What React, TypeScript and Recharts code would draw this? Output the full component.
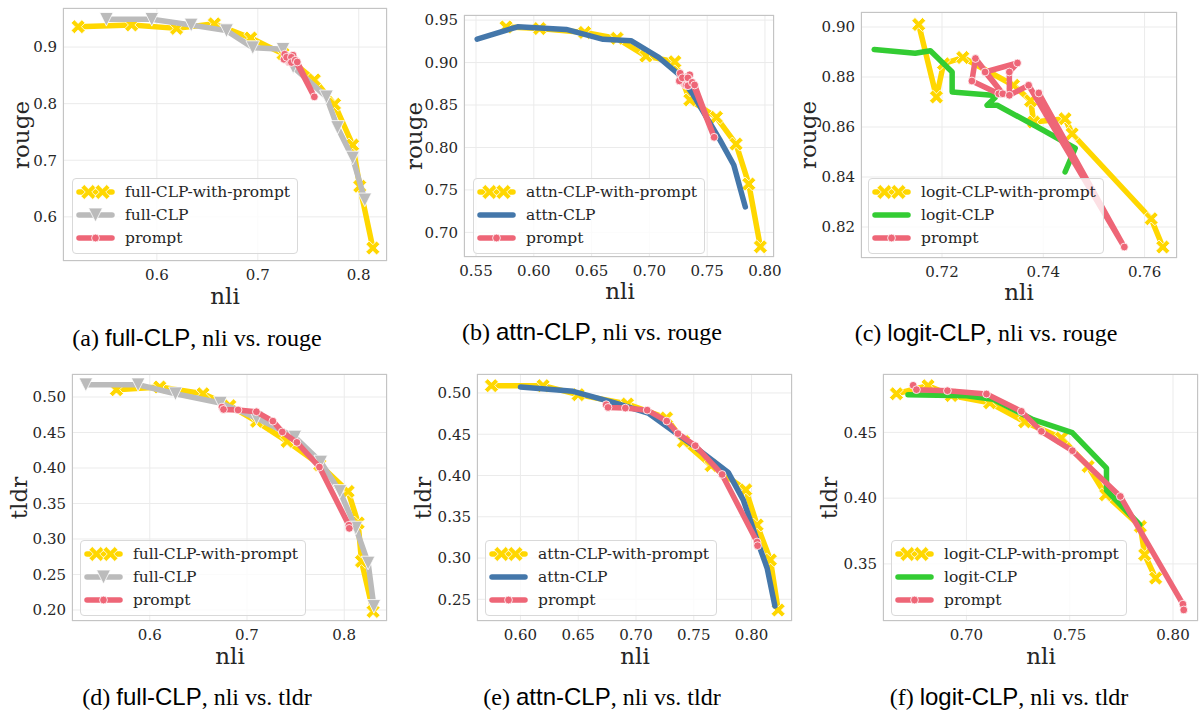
import React from 'react';
import { ScatterChart, Scatter, XAxis, YAxis, CartesianGrid } from 'recharts';

// ---------- data (nli on x, metric on y) ----------
// (a) full-CLP, nli vs. rouge
const fullWpRougeNli = [0.522, 0.575, 0.6195, 0.657, 0.693, 0.725, 0.756, 0.776, 0.794, 0.801, 0.814];
const fullWpRouge = [0.936, 0.939, 0.933, 0.941, 0.916, 0.888, 0.842, 0.799, 0.727, 0.654, 0.545];
const fullRougeNli = [0.55, 0.595, 0.634, 0.669, 0.695, 0.725, 0.735, 0.768, 0.779, 0.794, 0.806];
const fullRouge = [0.949, 0.949, 0.939, 0.929, 0.899, 0.896, 0.865, 0.812, 0.758, 0.704, 0.63];
// (b) attn-CLP, nli vs. rouge
const attnWpRougeNli = [0.576, 0.605, 0.644, 0.672, 0.697, 0.722, 0.735, 0.758, 0.775, 0.786, 0.796];
const attnWpRouge = [0.942, 0.94, 0.9355, 0.9285, 0.9076, 0.901, 0.856, 0.8355, 0.804, 0.757, 0.683];
const attnRougeNli = [0.551, 0.586, 0.628, 0.66, 0.684, 0.708, 0.725, 0.738, 0.761, 0.773, 0.783];
const attnRouge = [0.9276, 0.9421, 0.939, 0.9273, 0.9257, 0.906, 0.8865, 0.8618, 0.809, 0.7794, 0.73];
// (c) logit-CLP, nli vs. rouge
const logitWpRougeNli = [0.7154, 0.7189, 0.7203, 0.7241, 0.7341, 0.7375, 0.7381, 0.7443, 0.7457, 0.7613, 0.7636];
const logitWpRouge = [0.901, 0.872, 0.8853, 0.8878, 0.8767, 0.8705, 0.862, 0.8633, 0.8573, 0.8233, 0.812];
const logitRougeNli = [0.7066, 0.7147, 0.7177, 0.722, 0.722, 0.7299, 0.7305, 0.7289, 0.7309, 0.74, 0.7463, 0.7443];
const logitRouge = [0.891, 0.8895, 0.8905, 0.882, 0.874, 0.8727, 0.8718, 0.8687, 0.8687, 0.8587, 0.8515, 0.842];
// prompt baseline, nli vs. rouge
const promptRougeNli = [0.7312, 0.7259, 0.7266, 0.732, 0.7285, 0.7349, 0.7333, 0.7333, 0.7371, 0.756, 0.7391];
const promptRouge = [0.8733, 0.8784, 0.8874, 0.8733, 0.882, 0.8856, 0.882, 0.8727, 0.8767, 0.812, 0.8736];
// (d) full-CLP, nli vs. tldr
const fullWpTldrNli = [0.5657, 0.6103, 0.6548, 0.6823, 0.7098, 0.7413, 0.7749, 0.804, 0.8143, 0.8178, 0.8297];
const fullWpTldr = [0.5103, 0.5141, 0.5046, 0.4877, 0.4657, 0.4375, 0.4047, 0.367, 0.3225, 0.2685, 0.198];
const fullTldrNli = [0.5342, 0.588, 0.6264, 0.6727, 0.7098, 0.7492, 0.7759, 0.7955, 0.8119, 0.8246, 0.8305];
const fullTldr = [0.5173, 0.5173, 0.5046, 0.4915, 0.4704, 0.4437, 0.4085, 0.367, 0.3155, 0.2662, 0.2051];
// (e) attn-CLP, nli vs. tldr
const attnWpTldrNli = [0.5749, 0.6196, 0.6499, 0.6926, 0.7264, 0.741, 0.765, 0.795, 0.8048, 0.8163, 0.823];
const attnWpTldr = [0.5089, 0.5089, 0.498, 0.4866, 0.4697, 0.4413, 0.412, 0.3826, 0.34, 0.2977, 0.237];
const attnTldrNli = [0.6, 0.6455, 0.6802, 0.7105, 0.745, 0.7798, 0.7928, 0.8057, 0.8135, 0.8202];
const attnTldr = [0.5073, 0.502, 0.4886, 0.4757, 0.441, 0.4038, 0.3705, 0.318, 0.2876, 0.2418];
// (f) logit-CLP, nli vs. tldr
const logitWpTldrNli = [0.6661, 0.6814, 0.6927, 0.7113, 0.7282, 0.746, 0.7589, 0.7674, 0.7842, 0.7863, 0.7916];
const logitWpTldr = [0.4794, 0.4855, 0.478, 0.4725, 0.458, 0.4457, 0.4241, 0.4026, 0.3785, 0.357, 0.3392];
const logitTldrNli = [0.6717, 0.7, 0.7129, 0.7323, 0.7512, 0.7678, 0.7678, 0.7839];
const logitTldr = [0.4787, 0.4779, 0.4752, 0.4597, 0.4498, 0.4229, 0.4059, 0.3798];
// prompt baseline, nli vs. tldr
const promptTldrNli = [0.6742, 0.6758, 0.6908, 0.7097, 0.7266, 0.7363, 0.7513, 0.7745, 0.8048, 0.8052];
const promptTldr = [0.4858, 0.4825, 0.4817, 0.4792, 0.466, 0.4508, 0.4361, 0.4013, 0.3194, 0.315];

// tick labels
const ticksA_x = [0.6, 0.7, 0.8];
const ticksA_y = [0.6, 0.7, 0.8, 0.9];
const ticksB_x = [0.55, 0.6, 0.65, 0.7, 0.75, 0.8];
const ticksB_y = [0.7, 0.75, 0.8, 0.85, 0.9, 0.95];
const ticksC_x = [0.72, 0.74, 0.76];
const ticksC_y = [0.82, 0.84, 0.86, 0.88, 0.9];
const ticksD_x = [0.6, 0.7, 0.8];
const ticksD_y = [0.2, 0.25, 0.3, 0.35, 0.4, 0.45, 0.5];
const ticksE_x = [0.6, 0.65, 0.7, 0.75, 0.8];
const ticksE_y = [0.25, 0.3, 0.35, 0.4, 0.45, 0.5];
const ticksF_x = [0.7, 0.75, 0.8];
const ticksF_y = [0.35, 0.4, 0.45];

// ---------- styling ----------
const SERIF = "'DejaVu Serif', serif";
const YELLOW = '#FFD700';
const GRAY = '#BBBBBB';
const RED = '#EE6677';
const BLUE = '#4477AA';
const GREEN = '#33CC33';
const TEXT = '#262626';
const RM = 24; // right margin of each chart svg (room for last tick label)

type Pt = { x: number; y: number };
const zip = (xs: number[], ys: number[]): Pt[] => xs.map((x, i) => ({ x, y: ys[i] }));

function xPoints(cx: number, cy: number, h: number, a: number) {
  const L = h * Math.SQRT2 - a;
  const base = [
    [a, a], [a, L], [-a, L], [-a, a], [-L, a], [-L, -a],
    [-a, -a], [-a, -L], [a, -L], [a, -a], [L, -a], [L, a],
  ];
  return base
    .map(([x, y]) => `${cx + (x - y) / Math.SQRT2},${cy + (x + y) / Math.SQRT2}`)
    .join(' ');
}

function Marker({ kind, cx, cy, color, big }: any) {
  if (cx == null || cy == null) return <g />;
  if (kind === 'x') {
    const h = big ? 7.5 : 7;
    return <polygon points={xPoints(cx, cy, h, 2.3)} fill={color} stroke="#ffffff" strokeWidth={0.8} />;
  }
  if (kind === 'v') {
    const s = big ? 7 : 6.8;
    return (
      <polygon
        points={`${cx - s},${cy - s} ${cx + s},${cy - s} ${cx},${cy + s}`}
        fill={color}
        stroke="#ffffff"
        strokeWidth={0.8}
      />
    );
  }
  if (kind === 'o') {
    return <circle cx={cx} cy={cy} r={3.9} fill={color} stroke="#ffffff" strokeWidth={0.8} />;
  }
  return <g />;
}

type Series = { name: string; data: Pt[]; color: string; marker: string };
type PanelCfg = {
  l: number; t: number; r: number; b: number;
  xDomain: [number, number]; yDomain: [number, number];
  xTicks: number[]; yTicks: number[]; xDec: number; yDec: number;
  series: Series[];
  legend: { x: number; y: number };
  xLabel: { x: number; y: number }; yLabel: { x: number; y: number; text: string };
  caption: { x: number; y: number; letter: string; method: string; metric: string };
};

function Panel({ cfg }: { cfg: PanelCfg }) {
  const { l, t, r, b } = cfg;
  const w = r - l + 60 + RM;
  const h = b - t + 35;
  const tickStyle = { fontFamily: SERIF, fontSize: 15, fill: TEXT };
  return (
    <>
      <div style={{ position: 'absolute', left: l - 60, top: t - 5 }}>
        <ScatterChart width={w} height={h} margin={{ top: 5, right: RM, bottom: 0, left: 0 }}>
          <CartesianGrid stroke="#ebebeb" strokeWidth={1} />
          <XAxis
            type="number"
            dataKey="x"
            domain={cfg.xDomain}
            ticks={cfg.xTicks}
            interval={0}
            allowDataOverflow
            axisLine={false}
            tickLine={false}
            tickSize={6}
            tickMargin={2}
            height={30}
            tick={tickStyle}
            tickFormatter={(v: number) => v.toFixed(cfg.xDec)}
          />
          <YAxis
            type="number"
            dataKey="y"
            domain={cfg.yDomain}
            ticks={cfg.yTicks}
            interval={0}
            allowDataOverflow
            axisLine={false}
            tickLine={false}
            tickSize={4}
            tickMargin={2}
            width={60}
            tick={tickStyle}
            tickFormatter={(v: number) => v.toFixed(cfg.yDec)}
          />
          {cfg.series.map((s) => (
            <Scatter
              key={s.name}
              name={s.name}
              data={s.data}
              fill={s.color}
              line={{ stroke: s.color, strokeWidth: 5.5, strokeLinejoin: 'round', strokeLinecap: 'round' }}
              lineType="joint"
              shape={(p: any) => <Marker kind={s.marker} cx={p.cx} cy={p.cy} color={s.color} />}
              isAnimationActive={false}
            />
          ))}
        </ScatterChart>
      </div>
      {/* axes frame */}
      <div
        style={{
          position: 'absolute', left: l, top: t, width: r - l, height: b - t,
          border: '1px solid #c4c4c4', boxSizing: 'border-box', pointerEvents: 'none',
        }}
      />
      {/* legend */}
      <div
        style={{
          position: 'absolute', left: cfg.legend.x, top: cfg.legend.y,
          background: 'rgba(255,255,255,0.8)', border: '1px solid #d9d9d9', borderRadius: 4,
          padding: '1px 7px 3px 4px', fontFamily: SERIF, fontSize: 15.5, color: TEXT,
          whiteSpace: 'nowrap',
        }}
      >
        {cfg.series.map((s) => (
          <div key={s.name} style={{ display: 'flex', alignItems: 'center', height: 23.3 }}>
            <svg width={37} height={20} style={{ overflow: 'visible' }}>
              <line x1={2} y1={10} x2={35} y2={10} stroke={s.color} strokeWidth={5.5} strokeLinecap="round" />
              {s.marker === 'x' ? (
                <>
                  <Marker kind="x" cx={11.5} cy={10} color={s.color} big />
                  <Marker kind="x" cx={25.5} cy={10} color={s.color} big />
                </>
              ) : (
                <Marker kind={s.marker} cx={18.5} cy={10} color={s.color} big />
              )}
            </svg>
            <span style={{ marginLeft: 11 }}>{s.name}</span>
          </div>
        ))}
      </div>
      {/* axis titles */}
      <div
        style={{
          position: 'absolute', left: cfg.xLabel.x, top: cfg.xLabel.y, transform: 'translate(-50%,-50%)',
          fontFamily: SERIF, fontSize: 23, color: TEXT, whiteSpace: 'nowrap', lineHeight: '18px',
        }}
      >
        nli
      </div>
      <div
        style={{
          position: 'absolute', left: cfg.yLabel.x, top: cfg.yLabel.y,
          transform: 'translate(-50%,-50%) rotate(-90deg)',
          fontFamily: SERIF, fontSize: 23, color: TEXT, whiteSpace: 'nowrap', lineHeight: '18px',
        }}
      >
        {cfg.yLabel.text}
      </div>
      {/* caption */}
      <div
        style={{
          position: 'absolute', left: cfg.caption.x - 200, width: 400, top: cfg.caption.y - 13,
          textAlign: 'center', fontFamily: "'Liberation Serif', 'Times New Roman', serif", fontSize: 24,
          lineHeight: '26px', color: '#000', whiteSpace: 'nowrap',
        }}
      >
        ({cfg.caption.letter}){' '}
        <span style={{ fontFamily: "'Liberation Sans', Arial, sans-serif" }}>{cfg.caption.method}</span>, nli vs.{' '}
        {cfg.caption.metric}
      </div>
    </>
  );
}

const panels: PanelCfg[] = [
  {
    l: 63, t: 8, r: 387, b: 261, xDomain: [0.507, 0.828], yDomain: [0.522, 0.969],
    xTicks: ticksA_x, yTicks: ticksA_y, xDec: 1, yDec: 1,
    series: [
      { name: 'full-CLP-with-prompt', data: zip(fullWpRougeNli, fullWpRouge), color: YELLOW, marker: 'x' },
      { name: 'full-CLP', data: zip(fullRougeNli, fullRouge), color: GRAY, marker: 'v' },
      { name: 'prompt', data: zip(promptRougeNli, promptRouge), color: RED, marker: 'o' },
    ],
    legend: { x: 72, y: 178 },
    xLabel: { x: 225, y: 296 }, yLabel: { x: 21, y: 135, text: 'rouge' },
    caption: { x: 197, y: 338, letter: 'a', method: 'full-CLP', metric: 'rouge' },
  },
  {
    l: 464, t: 15, r: 774, b: 257, xDomain: [0.5396, 0.8078], yDomain: [0.671, 0.956],
    xTicks: ticksB_x, yTicks: ticksB_y, xDec: 2, yDec: 2,
    series: [
      { name: 'attn-CLP-with-prompt', data: zip(attnWpRougeNli, attnWpRouge), color: YELLOW, marker: 'x' },
      { name: 'attn-CLP', data: zip(attnRougeNli, attnRouge), color: BLUE, marker: 'none' },
      { name: 'prompt', data: zip(promptRougeNli, promptRouge), color: RED, marker: 'o' },
    ],
    legend: { x: 473, y: 178 },
    xLabel: { x: 620, y: 291 }, yLabel: { x: 414, y: 136, text: 'rouge' },
    caption: { x: 592, y: 332, letter: 'b', method: 'attn-CLP', metric: 'rouge' },
  },
  {
    l: 861, t: 12, r: 1177, b: 258, xDomain: [0.704, 0.7664], yDomain: [0.8076, 0.906],
    xTicks: ticksC_x, yTicks: ticksC_y, xDec: 2, yDec: 2,
    series: [
      { name: 'logit-CLP-with-prompt', data: zip(logitWpRougeNli, logitWpRouge), color: YELLOW, marker: 'x' },
      { name: 'logit-CLP', data: zip(logitRougeNli, logitRouge), color: GREEN, marker: 'none' },
      { name: 'prompt', data: zip(promptRougeNli, promptRouge), color: RED, marker: 'o' },
    ],
    legend: { x: 868, y: 178 },
    xLabel: { x: 1019, y: 292 }, yLabel: { x: 808, y: 135, text: 'rouge' },
    caption: { x: 986, y: 333, letter: 'c', method: 'logit-CLP', metric: 'rouge' },
  },
  {
    l: 72, t: 374, r: 387, b: 621, xDomain: [0.52, 0.844], yDomain: [0.1845, 0.5324],
    xTicks: ticksD_x, yTicks: ticksD_y, xDec: 1, yDec: 2,
    series: [
      { name: 'full-CLP-with-prompt', data: zip(fullWpTldrNli, fullWpTldr), color: YELLOW, marker: 'x' },
      { name: 'full-CLP', data: zip(fullTldrNli, fullTldr), color: GRAY, marker: 'v' },
      { name: 'prompt', data: zip(promptTldrNli, promptTldr), color: RED, marker: 'o' },
    ],
    legend: { x: 80, y: 540 },
    xLabel: { x: 230, y: 656 }, yLabel: { x: 19, y: 498, text: 'tldr' },
    caption: { x: 197, y: 697, letter: 'd', method: 'full-CLP', metric: 'tldr' },
  },
  {
    l: 477, t: 374, r: 792, b: 621, xDomain: [0.5624, 0.835], yDomain: [0.2237, 0.523],
    xTicks: ticksE_x, yTicks: ticksE_y, xDec: 2, yDec: 2,
    series: [
      { name: 'attn-CLP-with-prompt', data: zip(attnWpTldrNli, attnWpTldr), color: YELLOW, marker: 'x' },
      { name: 'attn-CLP', data: zip(attnTldrNli, attnTldr), color: BLUE, marker: 'none' },
      { name: 'prompt', data: zip(promptTldrNli, promptTldr), color: RED, marker: 'o' },
    ],
    legend: { x: 485, y: 540 },
    xLabel: { x: 635, y: 656 }, yLabel: { x: 423, y: 498, text: 'tldr' },
    caption: { x: 602, y: 697, letter: 'e', method: 'attn-CLP', metric: 'tldr' },
  },
  {
    l: 883, t: 374, r: 1198, b: 621, xDomain: [0.6596, 0.8121], yDomain: [0.3066, 0.4944],
    xTicks: ticksF_x, yTicks: ticksF_y, xDec: 2, yDec: 2,
    series: [
      { name: 'logit-CLP-with-prompt', data: zip(logitWpTldrNli, logitWpTldr), color: YELLOW, marker: 'x' },
      { name: 'logit-CLP', data: zip(logitTldrNli, logitTldr), color: GREEN, marker: 'none' },
      { name: 'prompt', data: zip(promptTldrNli, promptTldr), color: RED, marker: 'o' },
    ],
    legend: { x: 891, y: 540 },
    xLabel: { x: 1041, y: 656 }, yLabel: { x: 829, y: 498, text: 'tldr' },
    caption: { x: 1009, y: 697, letter: 'f', method: 'logit-CLP', metric: 'tldr' },
  },
];

export default function App() {
  return (
    <div
      style={{
        position: 'absolute', left: 0, top: 0, width: 1200, height: 713,
        overflow: 'hidden', background: '#ffffff',
      }}
    >
      {panels.map((p) => (
        <Panel key={p.caption.letter} cfg={p} />
      ))}
    </div>
  );
}
